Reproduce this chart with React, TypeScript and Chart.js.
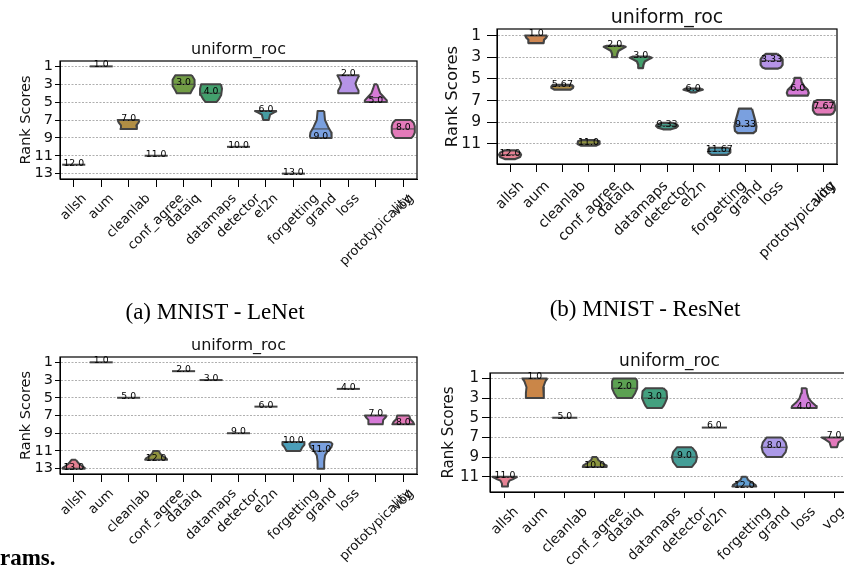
import React, { useEffect, useRef } from 'react';
import { Chart, registerables } from 'chart.js';
Chart.register(...registerables);
Chart.defaults.font.family = '"DejaVu Sans", sans-serif';

// ---------- categories & ticks ----------
const categories13 = ['allsh', 'aum', 'cleanlab', 'conf_agree', 'dataiq', 'datamaps', 'detector', 'el2n', 'forgetting', 'grand', 'loss', 'prototypicality', 'vog'];
const categories12 = ['allsh', 'aum', 'cleanlab', 'conf_agree', 'dataiq', 'datamaps', 'detector', 'el2n', 'forgetting', 'grand', 'loss', 'vog'];
const rankTicks13 = [1, 3, 5, 7, 9, 11, 13];
const rankTicks11 = [1, 3, 5, 7, 9, 11];
const chartTitle = 'uniform_roc';
const axisTitle = 'Rank Scores';

// ---------- (a) MNIST - LeNet ----------
const valuesA = [12, 1, 7, 11, 3, 4, 10, 6, 13, 9, 2, 5, 8];
// violin outlines: [rank, half width in category units]
const shapesA = [
  [[12, 0.42]],
  [[1, 0.42]],
  [[7, 0.4], [7.3, 0.36], [7.6, 0.28], [8, 0.3]],
  [[11, 0.42]],
  [[2, 0.3], [2.5, 0.4], [3.2, 0.4], [3.7, 0.3], [4, 0.25]],
  [[3, 0.36], [3.5, 0.4], [4.2, 0.37], [4.7, 0.28], [5, 0.2]],
  [[10, 0.42]],
  [[6, 0.4], [6.15, 0.3], [6.4, 0.15], [7, 0.1]],
  [[13, 0.42]],
  [[6, 0.12], [7, 0.15], [7.8, 0.27], [8.4, 0.38], [8.8, 0.4], [9, 0.38]],
  [[2, 0.4], [2.4, 0.33], [2.9, 0.26], [3.3, 0.3], [3.7, 0.37], [4, 0.37]],
  [[3, 0.05], [3.5, 0.1], [4, 0.16], [4.4, 0.28], [4.8, 0.4], [5, 0.4]],
  [[7, 0.28], [7.3, 0.38], [7.7, 0.42], [8.4, 0.42], [8.8, 0.36], [9, 0.3]],
];
const innerA = [[], [], [], [], [3], [4], [], [], [], [8], [], [4.5], [8]];

// ---------- (b) MNIST - ResNet ----------
const valuesB = [12, 1, 5.67, 11, 2, 3, 9.33, 6, 11.67, 9.33, 3.33, 6, 7.67];
const shapesB = [
  [[11.6, 0.22], [11.8, 0.38], [12.0, 0.42], [12.2, 0.38], [12.4, 0.2]],
  [[1, 0.42], [1.2, 0.38], [1.4, 0.3], [1.7, 0.28]],
  [[5.55, 0.36], [5.7, 0.42], [5.85, 0.4], [6.0, 0.3]],
  [[10.65, 0.3], [10.75, 0.4], [11.0, 0.42], [11.15, 0.3]],
  [[1.95, 0.3], [2.05, 0.42], [2.2, 0.3], [2.4, 0.15], [2.7, 0.1], [3, 0.08]],
  [[2.95, 0.3], [3.05, 0.42], [3.2, 0.3], [3.4, 0.15], [3.7, 0.1], [4, 0.08]],
  [[9.05, 0.2], [9.2, 0.38], [9.35, 0.42], [9.5, 0.35], [9.65, 0.15]],
  [[5.9, 0.3], [6.0, 0.37], [6.1, 0.2], [6.25, 0.08]],
  [[11.35, 0.35], [11.5, 0.42], [11.8, 0.42], [12.0, 0.3]],
  [[7.75, 0.25], [8.2, 0.3], [8.8, 0.37], [9.4, 0.42], [9.8, 0.4], [10.0, 0.3]],
  [[2.7, 0.22], [2.85, 0.3], [3.0, 0.36], [3.2, 0.42], [3.7, 0.42], [3.95, 0.35], [4.05, 0.25]],
  [[4.9, 0.12], [5.3, 0.15], [5.7, 0.25], [6.0, 0.38], [6.3, 0.42], [6.55, 0.38]],
  [[6.95, 0.25], [7.1, 0.38], [7.5, 0.42], [7.9, 0.42], [8.2, 0.35], [8.3, 0.25]],
];
const innerB = [[12], [], [5.67], [11], [], [], [9.33], [], [11.67], [9.33], [3.33], [6], [7.67]];

// ---------- (c) ----------
const valuesC = [13, 1, 5, 12, 2, 3, 9, 6, 10, 11, 4, 7, 8];
const shapesC = [
  [[12, 0.08], [12.4, 0.18], [12.7, 0.3], [12.9, 0.4], [13, 0.4]],
  [[1, 0.42]],
  [[5, 0.42]],
  [[11, 0.1], [11.3, 0.15], [11.6, 0.25], [11.85, 0.38], [12, 0.4]],
  [[2, 0.42]],
  [[3, 0.42]],
  [[9, 0.42]],
  [[6, 0.42]],
  [[10, 0.4], [10.3, 0.4], [10.6, 0.32], [10.85, 0.28], [11, 0.25]],
  [[10, 0.35], [10.2, 0.42], [10.6, 0.38], [11, 0.25], [11.5, 0.15], [12.2, 0.12], [13, 0.12]],
  [[4, 0.42]],
  [[7, 0.4], [7.2, 0.36], [7.5, 0.27], [8, 0.25]],
  [[7, 0.22], [7.4, 0.25], [7.7, 0.35], [8, 0.4]],
];
const innerC = [[], [], [], [], [], [], [], [], [], [11], [], [], []];

// ---------- (d) ----------
const valuesD = [11, 1, 5, 10, 2, 3, 9, 6, 12, 8, 4, 7];
const shapesD = [
  [[11, 0.42], [11.2, 0.3], [11.4, 0.15], [11.7, 0.1], [12, 0.1]],
  [[1, 0.42], [1.3, 0.35], [1.9, 0.28], [2.5, 0.3], [3, 0.3]],
  [[5, 0.42]],
  [[9, 0.08], [9.3, 0.12], [9.6, 0.25], [9.85, 0.38], [10, 0.4]],
  [[1, 0.38], [1.3, 0.42], [2, 0.42], [2.5, 0.35], [2.85, 0.28], [3, 0.25]],
  [[2, 0.3], [2.3, 0.4], [3, 0.42], [3.5, 0.35], [3.8, 0.3], [4, 0.25]],
  [[8, 0.25], [8.5, 0.38], [9, 0.42], [9.5, 0.38], [10, 0.25]],
  [[6, 0.42]],
  [[11, 0.08], [11.3, 0.12], [11.6, 0.25], [11.85, 0.38], [12, 0.4]],
  [[7, 0.25], [7.5, 0.38], [8, 0.42], [8.5, 0.38], [9, 0.25]],
  [[2, 0.08], [2.5, 0.1], [3, 0.15], [3.4, 0.25], [3.8, 0.4], [4, 0.42]],
  [[7, 0.42], [7.2, 0.3], [7.5, 0.15], [8, 0.1]],
];
const innerD = [[], [], [], [], [2], [3], [9], [], [], [8], [], []];

// ---------- styles ----------
const husl13 = ['#f77189', '#e3843d', '#c39432', '#9da131', '#72ab37', '#33b06c', '#35ae94', '#37abb1', '#39a8cb', '#699cf0', '#b385f4', '#e56be6', '#f568bd'];
const husl12 = ['#f77189', '#e08532', '#bb9832', '#97a431', '#52ae45', '#33b083', '#36ada4', '#38aac0', '#4fa1e6', '#a48cf4', '#de6fea', '#f567c1'];
const EDGE = '#444444';

function desaturate(hex: string, prop: number) {
  const r = parseInt(hex.slice(1, 3), 16) / 255;
  const g = parseInt(hex.slice(3, 5), 16) / 255;
  const b = parseInt(hex.slice(5, 7), 16) / 255;
  const mx = Math.max(r, g, b), mn = Math.min(r, g, b);
  const l = (mx + mn) / 2;
  let h = 0, s = 0;
  if (mx !== mn) {
    const d = mx - mn;
    s = l > 0.5 ? d / (2 - mx - mn) : d / (mx + mn);
    if (mx === r) h = (g - b) / d + (g < b ? 6 : 0);
    else if (mx === g) h = (b - r) / d + 2;
    else h = (r - g) / d + 4;
    h /= 6;
  }
  s *= prop;
  const hue2rgb = (p: number, q: number, t: number) => {
    if (t < 0) t += 1;
    if (t > 1) t -= 1;
    if (t < 1 / 6) return p + (q - p) * 6 * t;
    if (t < 1 / 2) return q;
    if (t < 2 / 3) return p + (q - p) * (2 / 3 - t) * 6;
    return p;
  };
  const q = l < 0.5 ? l * (1 + s) : l + s - l * s;
  const p = 2 * l - q;
  const to = (v: number) => Math.round(v * 255);
  return `rgb(${to(hue2rgb(p, q, h + 1 / 3))},${to(hue2rgb(p, q, h))},${to(hue2rgb(p, q, h - 1 / 3))})`;
}

function halfWidthAt(shape: number[][], v: number) {
  for (let k = 0; k < shape.length - 1; k++) {
    const [y0, w0] = shape[k];
    const [y1, w1] = shape[k + 1];
    if (v >= y0 && v <= y1) return w0 + ((w1 - w0) * (v - y0)) / (y1 - y0 || 1);
  }
  return v < shape[0][0] ? shape[0][1] : shape[shape.length - 1][1];
}

const valueText = (v: number) => (Number.isInteger(v) ? v.toFixed(1) : v.toFixed(2));

type PanelSpec = {
  categories: string[];
  values: number[];
  shapes: number[][][];
  inner: number[][];
  rankTicks: number[];
  yMin: number;
  yMax: number;
  palette: string[];
  box: { left: number; top: number; width: number; height: number; areaTop: number; areaRight: number; yWidth: number; xHeight: number };
  fonts: { title: number; tick: number; ylabel: number; xtick: number; value: number };
  titleGap: number;
  yLabelGap: number;
  xLabelGap: number;
  tickLenX: number;
  tickLenY: number;
  tickPad: number;
  lineWidth: number;
};

const panels: PanelSpec[] = [
  {
    categories: categories13, values: valuesA, shapes: shapesA, inner: innerA, rankTicks: rankTicks13, yMin: 0.4, yMax: 13.6, palette: husl13,
    box: { left: 0, top: 20, width: 420, height: 285, areaTop: 41, areaRight: 3, yWidth: 60, xHeight: 126 },
    fonts: { title: 16, tick: 14.5, ylabel: 14.5, xtick: 13.2, value: 9.3 },
    titleGap: 7.5, yLabelGap: 30, xLabelGap: 12, tickLenX: 8, tickLenY: 5, tickPad: 2, lineWidth: 2,
  },
  {
    categories: categories13, values: valuesB, shapes: shapesB, inner: innerB, rankTicks: rankTicks11, yMin: 0.4, yMax: 12.85, palette: husl13,
    box: { left: 420, top: 0, width: 424, height: 300, areaTop: 29, areaRight: 7, yWidth: 77, xHeight: 136 },
    fonts: { title: 19, tick: 15.5, ylabel: 16.5, xtick: 14.2, value: 9.5 },
    titleGap: 6, yLabelGap: 40, xLabelGap: 14, tickLenX: 8, tickLenY: 10, tickPad: 6, lineWidth: 2.2,
  },
  {
    categories: categories13, values: valuesC, shapes: shapesC, inner: innerC, rankTicks: rankTicks13, yMin: 0.4, yMax: 13.6, palette: husl13,
    box: { left: 0, top: 320, width: 420, height: 251, areaTop: 37, areaRight: 3, yWidth: 60, xHeight: 97 },
    fonts: { title: 16, tick: 14.5, ylabel: 14.5, xtick: 13.2, value: 9.3 },
    titleGap: 7.5, yLabelGap: 30, xLabelGap: 12, tickLenX: 8, tickLenY: 5, tickPad: 2, lineWidth: 2,
  },
  {
    categories: categories12, values: valuesD, shapes: shapesD, inner: innerD, rankTicks: rankTicks11, yMin: 0.45, yMax: 12.55, palette: husl12,
    box: { left: 420, top: 330, width: 440, height: 241, areaTop: 43, areaRight: 11, yWidth: 70, xHeight: 79 },
    fonts: { title: 17, tick: 15, ylabel: 15, xtick: 13.8, value: 9.3 },
    titleGap: 7, yLabelGap: 37, xLabelGap: 12, tickLenX: 6, tickLenY: 8, tickPad: 3, lineWidth: 2,
  },
];

function buildDatasets(p: PanelSpec) {
  const ds: any[] = [];
  p.shapes.forEach((shape, i) => {
    if (shape.length === 1) {
      const [y, w] = shape[0];
      ds.push({ data: [{ x: i - w, y }, { x: i + w, y }], borderColor: EDGE, borderWidth: p.lineWidth, pointRadius: 0, fill: false, order: 1 });
      return;
    }
    const right = shape.map(([y, w]) => ({ x: i + w, y }));
    const left = shape.slice().reverse().map(([y, w]) => ({ x: i - w, y }));
    ds.push({
      data: [...right, ...left, right[0]],
      borderColor: EDGE,
      backgroundColor: desaturate(p.palette[i], 0.75),
      borderWidth: p.lineWidth,
      borderJoinStyle: 'round',
      pointRadius: 0,
      fill: 'shape',
      tension: 0,
      order: 2,
    });
    p.inner[i].forEach((v) => {
      const w = halfWidthAt(shape, v) - 0.02;
      ds.push({ data: [{ x: i - w, y: v }, { x: i + w, y: v }], borderColor: EDGE, borderWidth: 1, pointRadius: 0, fill: false, order: 1 });
    });
  });
  return ds;
}

function decorPlugin(p: PanelSpec) {
  return {
    id: 'decor',
    afterDatasetsDraw(chart: any) {
      const { ctx } = chart;
      const xs = chart.scales.x, ys = chart.scales.y;
      ctx.save();
      ctx.font = `${p.fonts.value}px "DejaVu Sans"`;
      ctx.fillStyle = '#000';
      ctx.textAlign = 'center';
      ctx.textBaseline = 'middle';
      p.values.forEach((v, i) => {
        ctx.fillText(valueText(v), xs.getPixelForValue(i), ys.getPixelForValue(v) - 1.5);
      });
      ctx.restore();
    },
    afterDraw(chart: any) {
      const { ctx, chartArea: a } = chart;
      const xs = chart.scales.x;
      ctx.save();
      ctx.strokeStyle = '#000';
      ctx.lineWidth = 1.2;
      ctx.strokeRect(a.left, a.top, a.right - a.left, a.bottom - a.top);
      ctx.fillStyle = '#111';
      // title
      ctx.font = `${p.fonts.title}px "DejaVu Sans"`;
      ctx.textAlign = 'center';
      ctx.textBaseline = 'alphabetic';
      ctx.fillText(chartTitle, (a.left + a.right) / 2, a.top - p.titleGap);
      // y title
      ctx.save();
      ctx.font = `${p.fonts.ylabel}px "DejaVu Sans"`;
      ctx.translate(a.left - p.yLabelGap, (a.top + a.bottom) / 2);
      ctx.rotate(-Math.PI / 2);
      ctx.fillText(axisTitle, 0, 0);
      ctx.restore();
      // rotated category labels (centered on tick, like matplotlib rotation=45)
      const fs = p.fonts.xtick;
      ctx.font = `${fs}px "DejaVu Sans"`;
      p.categories.forEach((lab, i) => {
        const x = xs.getPixelForValue(i);
        const w = ctx.measureText(lab).width;
        const h = fs * 1.164;
        const half = (w + h) / (2 * Math.SQRT2);
        ctx.save();
        ctx.translate(x, a.bottom + p.xLabelGap + half);
        ctx.rotate(-Math.PI / 4);
        ctx.textAlign = 'center';
        ctx.textBaseline = 'middle';
        ctx.fillText(lab, 0, 0);
        ctx.restore();
      });
      ctx.restore();
    },
  };
}

function buildConfig(p: PanelSpec): any {
  return {
    type: 'line',
    data: { datasets: buildDatasets(p) },
    options: {
      animation: false,
      responsive: false,
      devicePixelRatio: 1,
      layout: { padding: { top: p.box.areaTop, right: p.box.areaRight, left: 0, bottom: 0 } },
      plugins: { legend: { display: false }, tooltip: { enabled: false }, title: { display: false } },
      scales: {
        x: {
          type: 'linear',
          min: -0.5,
          max: p.categories.length - 0.5,
          afterBuildTicks: (s: any) => {
            s.ticks = p.categories.map((_, i) => ({ value: i }));
          },
          afterFit: (s: any) => {
            s.height = p.box.xHeight;
          },
          ticks: { display: false, autoSkip: false },
          grid: { display: true, drawOnChartArea: false, drawTicks: true, tickLength: p.tickLenX, tickColor: '#000', tickWidth: 1 },
          border: { display: true, color: '#000', width: 1 },
        },
        y: {
          type: 'linear',
          reverse: true,
          min: p.yMin,
          max: p.yMax,
          afterBuildTicks: (s: any) => {
            s.ticks = p.rankTicks.map((v) => ({ value: v }));
          },
          afterFit: (s: any) => {
            s.width = p.box.yWidth;
          },
          ticks: { autoSkip: false, color: '#111', padding: p.tickPad, font: { family: '"DejaVu Sans"', size: p.fonts.tick } },
          grid: { color: '#9a9a9a', lineWidth: 0.8, drawTicks: true, tickLength: p.tickLenY, tickColor: '#000', tickWidth: 1, tickBorderDash: [] },
          border: { display: true, color: '#000', width: 1, dash: [2, 1.5] },
        },
      },
    },
    plugins: [decorPlugin(p)],
  };
}

function Panel({ spec }: { spec: PanelSpec }) {
  const ref = useRef<HTMLCanvasElement | null>(null);
  useEffect(() => {
    if (!ref.current) return;
    const chart = new Chart(ref.current, buildConfig(spec));
    return () => chart.destroy();
  }, [spec]);
  const b = spec.box;
  return (
    <canvas
      ref={ref}
      width={b.width}
      height={b.height}
      style={{ position: 'absolute', left: b.left, top: b.top, width: b.width, height: b.height }}
    />
  );
}

const captionStyle: React.CSSProperties = {
  position: 'absolute',
  width: 300,
  textAlign: 'center',
  fontFamily: '"Liberation Serif", serif',
  fontSize: 23,
  lineHeight: '23px',
  color: '#000',
  whiteSpace: 'nowrap',
};

export default function App() {
  return (
    <div style={{ position: 'fixed', left: 0, top: 0, width: 844, height: 571, overflow: 'hidden', background: '#fff' }}>
      {panels.map((p, i) => (
        <Panel key={i} spec={p} />
      ))}
      <div style={{ ...captionStyle, left: 65, top: 300 }}>(a) MNIST - LeNet</div>
      <div style={{ ...captionStyle, left: 495, top: 297 }}>(b) MNIST - ResNet</div>
      <div style={{ ...captionStyle, left: 0, top: 546, width: 'auto', textAlign: 'left', fontWeight: 'bold' }}>rams.</div>
    </div>
  );
}
